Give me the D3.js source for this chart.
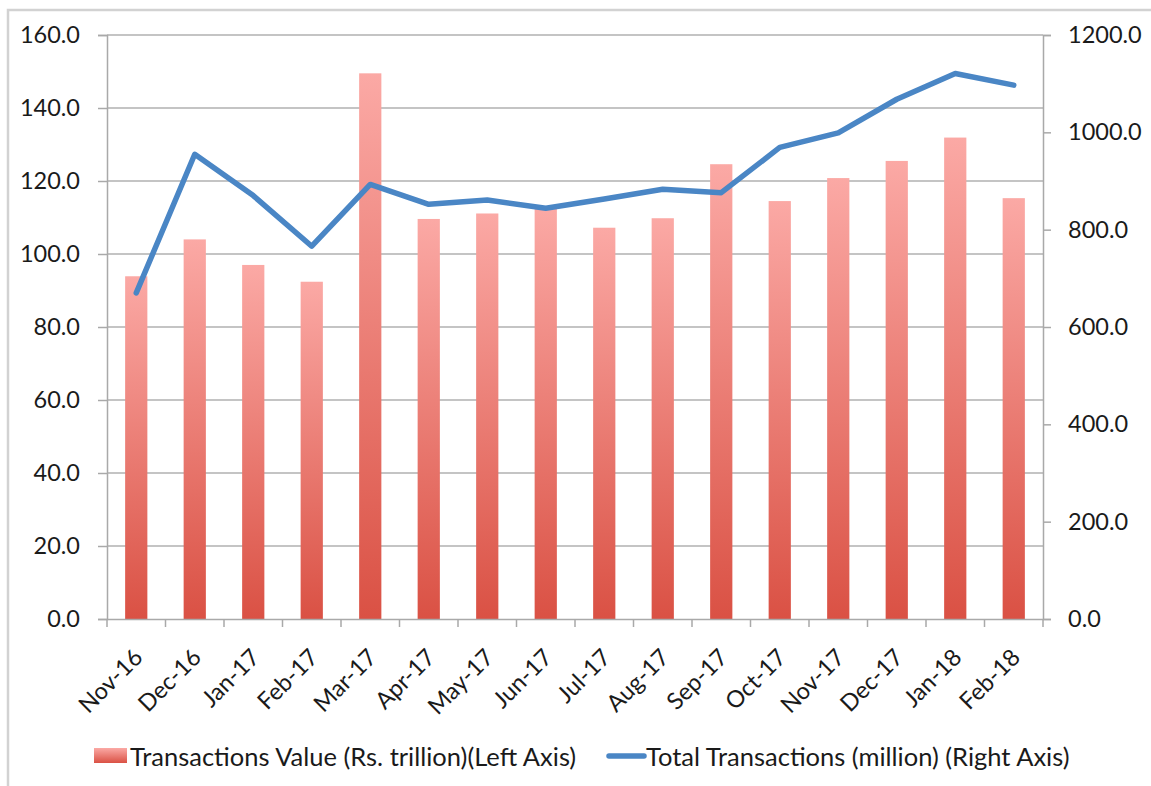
<!DOCTYPE html>
<html>
  <head>
    <meta charset="utf-8">
    <style type="text/css">
      body { margin: 0; background: #fff; }
      text { font-family: Lato, "Open Sans", sans-serif; fill: #1a1a1a; }
    </style>
  </head>
  <body>
    <div id="chart"></div>
    <script src="https://cdn.jsdelivr.net/npm/d3@7/dist/d3.min.js"></script>
    <script type="text/javascript">
      // months on the x axis
      var months = ["Nov-16", "Dec-16", "Jan-17", "Feb-17", "Mar-17", "Apr-17", "May-17", "Jun-17",
                    "Jul-17", "Aug-17", "Sep-17", "Oct-17", "Nov-17", "Dec-17", "Jan-18", "Feb-18"];
      // transactions value, Rs. trillion (left axis, bars)
      var txValue = [93.9, 104.0, 97.0, 92.4, 149.5, 109.6, 111.1, 112.5,
                     107.2, 109.8, 124.6, 114.5, 120.8, 125.5, 131.9, 115.3];
      // total transactions, million (right axis, line)
      var txCount = [670, 955, 870, 766, 893, 852, 861, 844,
                     863, 883, 876, 969, 999, 1068, 1121, 1097];
      var leftTicks = [0, 20, 40, 60, 80, 100, 120, 140, 160];
      var rightTicks = [0, 200, 400, 600, 800, 1000, 1200];
      var legendLabels = ["Transactions Value (Rs. trillion)(Left Axis)",
                          "Total Transactions (million) (Right Axis)"];

      (function () {
        var W = 1151, H = 786;
        var pL = 107, pR = 1043, pT = 35, pB = 619;

        var svg = d3.select("#chart").append("svg")
            .attr("width", W).attr("height", H);

        var grad = svg.append("defs").append("linearGradient")
            .attr("id", "barGrad").attr("x1", 0).attr("y1", 0).attr("x2", 0).attr("y2", 1);
        grad.append("stop").attr("offset", "0%").attr("stop-color", "#fba9a5");
        grad.append("stop").attr("offset", "100%").attr("stop-color", "#da5144");

        // outer frame of the chart
        svg.append("rect")
            .attr("x", 8).attr("y", 10).attr("width", 1200).attr("height", 900)
            .attr("fill", "none").attr("stroke", "#d2d2d2").attr("stroke-width", 2.5);

        var x = d3.scaleBand().domain(months).range([pL, pR]).padding(0);
        var yL = d3.scaleLinear().domain([0, 160]).range([pB, pT]);
        var yR = d3.scaleLinear().domain([0, 1200]).range([pB, pT]);

        // gridlines
        svg.append("g").selectAll("line")
            .data(leftTicks.slice(1))
            .enter().append("line")
            .attr("x1", pL).attr("x2", pR)
            .attr("y1", function (d) { return yL(d); })
            .attr("y2", function (d) { return yL(d); })
            .attr("stroke", "#c4c4c4").attr("stroke-width", 2);

        // bars
        var barW = x.bandwidth() * 0.38;
        svg.append("g").selectAll("rect")
            .data(txValue)
            .enter().append("rect")
            .attr("x", function (d, i) { return x(months[i]) + (x.bandwidth() - barW) / 2; })
            .attr("y", function (d) { return yL(d); })
            .attr("width", barW)
            .attr("height", function (d) { return pB - yL(d); })
            .attr("fill", "url(#barGrad)");

        // left axis
        var gL = svg.append("g").attr("transform", "translate(" + pL + ",0)")
            .call(d3.axisLeft(yL).tickValues(leftTicks).tickFormat(d3.format(".1f"))
                  .tickSize(9).tickPadding(18));
        // right axis
        var gR = svg.append("g").attr("transform", "translate(" + pR + ",0)")
            .call(d3.axisRight(yR).tickValues(rightTicks).tickFormat(d3.format(".1f"))
                  .tickSize(8).tickPadding(17));
        // bottom axis, ticks at category boundaries
        var gB = svg.append("g").attr("transform", "translate(0," + pB + ")")
            .call(d3.axisBottom(x).tickSize(0).tickFormat(""));
        gB.selectAll(".bnd")
            .data(months.concat(["end"]))
            .enter().append("line")
            .attr("class", "bnd")
            .attr("x1", function (d, i) { return pL + i * x.bandwidth(); })
            .attr("x2", function (d, i) { return pL + i * x.bandwidth(); })
            .attr("y1", 0).attr("y2", 8)
            .attr("stroke", "#a9a9a9").attr("stroke-width", 1.5);

        [gL, gR, gB].forEach(function (g) {
          g.select(".domain").attr("stroke", "#a9a9a9").attr("stroke-width", 1.5);
          g.selectAll(".tick line").attr("stroke", "#a9a9a9").attr("stroke-width", 1.5);
          g.selectAll(".tick text").style("font-size", "23.5px").attr("fill", "#1a1a1a");
        });

        // rotated month labels
        svg.append("g").selectAll("text")
            .data(months)
            .enter().append("text")
            .attr("transform", function (d) {
              return "translate(" + (x(d) + x.bandwidth() / 2 + 2) + "," + (pB + 34) + ") rotate(-45)";
            })
            .attr("text-anchor", "end")
            .attr("dy", "0.35em")
            .style("font-size", "23.5px")
            .text(function (d) { return d; });

        // line series
        var line = d3.line()
            .x(function (d, i) { return x(months[i]) + x.bandwidth() / 2; })
            .y(function (d) { return yR(d); });
        svg.append("path")
            .datum(txCount)
            .attr("d", line)
            .attr("fill", "none")
            .attr("stroke", "#4a86c5")
            .attr("stroke-width", 5.5)
            .attr("stroke-linejoin", "round")
            .attr("stroke-linecap", "round");

        // legend
        var lg = svg.append("g");
        lg.append("rect")
            .attr("x", 94).attr("y", 748).attr("width", 33).attr("height", 15)
            .attr("fill", "url(#barGrad)");
        lg.append("text")
            .attr("x", 130).attr("y", 757).attr("dy", "0.35em")
            .style("font-size", "25.5px").text(legendLabels[0]);
        lg.append("line")
            .attr("x1", 609).attr("x2", 644).attr("y1", 756).attr("y2", 756)
            .attr("stroke", "#4a86c5").attr("stroke-width", 5.5).attr("stroke-linecap", "round");
        lg.append("text")
            .attr("x", 646).attr("y", 757).attr("dy", "0.35em")
            .style("font-size", "25.5px").text(legendLabels[1]);
      })();
    </script>
  </body>
</html>
